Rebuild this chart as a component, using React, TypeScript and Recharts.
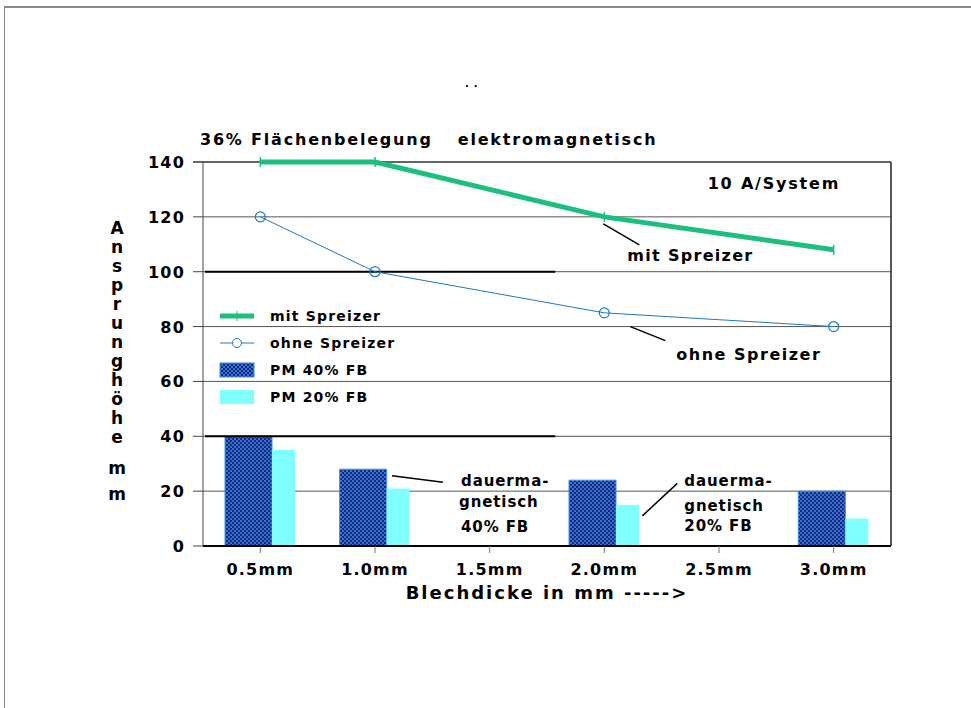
import React from 'react';
import {
  ComposedChart,
  Bar,
  Line,
  XAxis,
  YAxis,
  CartesianGrid,
  Legend,
  ReferenceLine,
  ReferenceDot,
  ReferenceArea,
} from 'recharts';

const categories = ['0.5mm', '1.0mm', '1.5mm', '2.0mm', '2.5mm', '3.0mm'];
const mitSpreizer = [140, 140, null, 120, null, 108];
const ohneSpreizer = [120, 100, null, 85, null, 80];
const pm40 = [40, 28, null, 24, null, 20];
const pm20 = [35, 21, null, 15, null, 10];
const yTicks = [0, 20, 40, 60, 80, 100, 120, 140];

const data = categories.map((name, i) => ({
  name,
  mit: mitSpreizer[i],
  ohne: ohneSpreizer[i],
  pm40: pm40[i],
  pm20: pm20[i],
}));

const FONT = '"DejaVu Sans", Verdana, sans-serif';
const GREEN = '#1cbf80';
const BLUE = '#1f78be';
const CYAN = '#80ffff';
const BAR_EDGE = '#3d90e6';

const XTick = ({ x, y, payload }: any) => (
  <text x={x} y={y + 20} textAnchor="middle" fontFamily={FONT} fontWeight="bold" fontSize={16} letterSpacing={1.2} fill="#000">
    {payload.value}
  </text>
);

const YTick = ({ x, y, payload }: any) => (
  <text x={x - 6} y={y + 6} textAnchor="end" fontFamily={FONT} fontWeight="bold" fontSize={16} letterSpacing={1.2} fill="#000">
    {payload.value}
  </text>
);

const YLabel = ({ viewBox }: any) => {
  const cx = viewBox.x + 14;
  const top = viewBox.y + 72;
  const word = 'Ansprunghöhe'.split('');
  return (
    <text fontFamily={FONT} fontWeight="bold" fontSize={17} textAnchor="middle" fill="#000">
      {word.map((ch, i) => (
        <tspan key={i} x={cx} y={top + i * 19}>{ch}</tspan>
      ))}
      <tspan x={cx} y={viewBox.y + 312}>m</tspan>
      <tspan x={cx} y={viewBox.y + 338}>m</tspan>
    </text>
  );
};

const PatternDefs = ({ id }: { id: string }) => (
  <defs>
    <pattern id={id} width="4" height="4" patternUnits="userSpaceOnUse">
      <rect width="4" height="4" fill="#0e2a7c" />
      <rect x="0" y="0" width="2" height="2" fill="#3e6fd2" />
      <rect x="2" y="2" width="2" height="2" fill="#3e6fd2" />
    </pattern>
  </defs>
);

const legendRows = [
  { label: 'mit Spreizer', kind: 'mit' },
  { label: 'ohne Spreizer', kind: 'ohne' },
  { label: 'PM 40% FB', kind: 'pm40' },
  { label: 'PM 20% FB', kind: 'pm20' },
];

const LegendIcon = ({ kind }: { kind: string }) => (
  <svg width={36} height={16} style={{ display: 'block' }}>
    <PatternDefs id="pmDotsLegend" />
    {kind === 'mit' && (
      <g>
        <line x1={1} y1={8} x2={35} y2={8} stroke={GREEN} strokeWidth={5} />
        <line x1={18} y1={3} x2={18} y2={13} stroke={GREEN} strokeWidth={1} />
      </g>
    )}
    {kind === 'ohne' && (
      <g>
        <line x1={1} y1={8} x2={35} y2={8} stroke={BLUE} strokeWidth={1} />
        <circle cx={18} cy={8} r={4.5} fill="#fff" stroke={BLUE} strokeWidth={1} />
      </g>
    )}
    {kind === 'pm40' && <rect x={1} y={1} width={34} height={14} fill="url(#pmDotsLegend)" stroke={BAR_EDGE} />}
    {kind === 'pm20' && <rect x={1} y={1} width={34} height={14} fill={CYAN} />}
  </svg>
);

const LegendContent = () => (
  <div>
    {legendRows.map((r) => (
      <div key={r.label} style={{ display: 'flex', alignItems: 'center', height: 27 }}>
        <LegendIcon kind={r.kind} />
        <span style={{ marginLeft: 15, fontFamily: FONT, fontWeight: 'bold', fontSize: 14, letterSpacing: 1.2, color: '#000' }}>
          {r.label}
        </span>
      </div>
    ))}
  </div>
);

const textStyle = { fontFamily: FONT, fontWeight: 'bold' as const, fill: '#000' };

const GreenTick = ({ cx, cy }: any) =>
  cx == null || cy == null ? null : <line x1={cx} y1={cy - 5} x2={cx} y2={cy + 5} stroke={GREEN} strokeWidth={1.5} />;

const BlueCircle = ({ cx, cy }: any) =>
  cx == null || cy == null ? null : <circle cx={cx} cy={cy} r={5} fill="none" stroke={BLUE} strokeWidth={1.2} />;

const partialLine = (p: any) => (
  <line x1={p.x1 + 2} y1={p.y1} x2={p.x1 + (p.x2 - p.x1) * 0.512} y2={p.y2} stroke="#000" strokeWidth={2} />
);

// top and right edge of the plot frame
const frameShape = (p: any) => (
  <g>
    <line x1={p.x - 10} y1={p.y} x2={p.x + p.width} y2={p.y} stroke="#222" strokeWidth={1.2} />
    <line x1={p.x + p.width} y1={p.y} x2={p.x + p.width} y2={p.y + p.height} stroke="#222" strokeWidth={1.5} />
  </g>
);

export default function App() {
  return (
    <div style={{ position: 'absolute', left: 0, top: 0, width: 971, height: 708, background: '#fff', overflow: 'hidden' }}>
      <div style={{ position: 'absolute', left: 4, top: 6, width: 1000, height: 1000, borderTop: '2px solid #8a8a8a', borderLeft: '1px solid #8a8a8a' }} />
      <div style={{ position: 'absolute', left: 465, top: 78, fontFamily: FONT, fontSize: 10, fontWeight: 'bold', letterSpacing: 5 }}>..</div>
      <div
        style={{
          position: 'absolute',
          left: 200,
          top: 130,
          fontFamily: FONT,
          fontWeight: 'bold',
          fontSize: 16,
          letterSpacing: 1.8,
          whiteSpace: 'pre',
          color: '#000',
        }}
      >
        <span>36% Flächenbelegung</span>
        <span style={{ marginLeft: 25 }}>elektromagnetisch</span>
      </div>
      <ComposedChart
        width={971}
        height={708}
        data={data}
        margin={{ top: 162, right: 80, bottom: 132, left: 103 }}
        barGap={0}
        style={{ position: 'absolute', left: 0, top: 0 }}
      >
        <PatternDefs id="pmDots" />
        <CartesianGrid vertical={false} stroke="#555" strokeWidth={1} />
        <XAxis
          dataKey="name"
          height={30}
          axisLine={{ stroke: '#000', strokeWidth: 2 }}
          tickLine={{ stroke: '#777' }}
          tickSize={7}
          tick={<XTick />}
          label={{
            value: 'Blechdicke in mm ----->',
            position: 'bottom',
            offset: 10,
            style: { fontFamily: FONT, fontWeight: 'bold', fontSize: 18, letterSpacing: 2, fill: '#000' },
          }}
        />
        <YAxis
          width={100}
          domain={[0, 140]}
          ticks={yTicks}
          interval={0}
          axisLine={{ stroke: '#444' }}
          tickLine={{ stroke: '#444' }}
          tickSize={10}
          tick={<YTick />}
          label={<YLabel />}
        />
        <ReferenceArea y1={0} y2={140} shape={frameShape} />
        <ReferenceLine y={100} shape={partialLine} />
        <ReferenceLine y={40} shape={partialLine} />
        <Bar dataKey="pm40" barSize={47} fill="url(#pmDots)" stroke={BAR_EDGE} strokeWidth={1} isAnimationActive={false} />
        <Bar dataKey="pm20" barSize={23} fill={CYAN} isAnimationActive={false} />
        <Line
          dataKey="mit"
          type="linear"
          stroke={GREEN}
          strokeWidth={5}
          connectNulls
          dot={<GreenTick />}
          activeDot={false}
          isAnimationActive={false}
        />
        <Line
          dataKey="ohne"
          type="linear"
          stroke={BLUE}
          strokeWidth={1}
          connectNulls
          dot={<BlueCircle />}
          activeDot={false}
          isAnimationActive={false}
        />
        <ReferenceDot
          x="3.0mm"
          y={140}
          shape={(p: any) => (
            <text x={p.cx - 126} y={p.cy + 27} {...textStyle} fontSize={16} letterSpacing={1.8}>
              10 A/System
            </text>
          )}
        />
        <ReferenceDot
          x="2.0mm"
          y={120}
          shape={(p: any) => (
            <g>
              <line x1={p.cx - 1} y1={p.cy + 7} x2={p.cx + 35} y2={p.cy + 28} stroke="#000" strokeWidth={1.5} />
              <text x={p.cx + 23} y={p.cy + 44} {...textStyle} fontSize={16} letterSpacing={1.3}>
                mit Spreizer
              </text>
            </g>
          )}
        />
        <ReferenceDot
          x="2.0mm"
          y={80}
          shape={(p: any) => (
            <g>
              <line x1={p.cx + 26} y1={p.cy} x2={p.cx + 61} y2={p.cy + 14} stroke="#000" strokeWidth={1.5} />
              <text x={p.cx + 72} y={p.cy + 33} {...textStyle} fontSize={16} letterSpacing={1.5}>
                ohne Spreizer
              </text>
            </g>
          )}
        />
        <ReferenceDot
          x="1.0mm"
          y={28}
          shape={(p: any) => (
            <g>
              <line x1={p.cx + 17} y1={p.cy + 6.5} x2={p.cx + 68} y2={p.cy + 13} stroke="#000" strokeWidth={1.5} />
              <g {...textStyle} fontSize={15} letterSpacing={0.9}>
                <text x={p.cx + 86} y={p.cy + 17}>dauerma-</text>
                <text x={p.cx + 84} y={p.cy + 38}>gnetisch</text>
                <text x={p.cx + 86} y={p.cy + 63}>40% FB</text>
              </g>
            </g>
          )}
        />
        <ReferenceDot
          x="2.0mm"
          y={15}
          shape={(p: any) => (
            <g>
              <line x1={p.cx + 38} y1={p.cy + 11} x2={p.cx + 73} y2={p.cy - 21.5} stroke="#000" strokeWidth={1.5} />
              <g {...textStyle} fontSize={15} letterSpacing={0.9}>
                <text x={p.cx + 80} y={p.cy - 19}>dauerma-</text>
                <text x={p.cx + 80} y={p.cy + 6}>gnetisch</text>
                <text x={p.cx + 80} y={p.cy + 26}>20% FB</text>
              </g>
            </g>
          )}
        />
        <Legend
          layout="horizontal"
          verticalAlign="middle"
          align="center"
          content={<LegendContent />}
          wrapperStyle={{ left: 219, top: 302, width: 'auto', bottom: 'auto' }}
        />
      </ComposedChart>
    </div>
  );
}
